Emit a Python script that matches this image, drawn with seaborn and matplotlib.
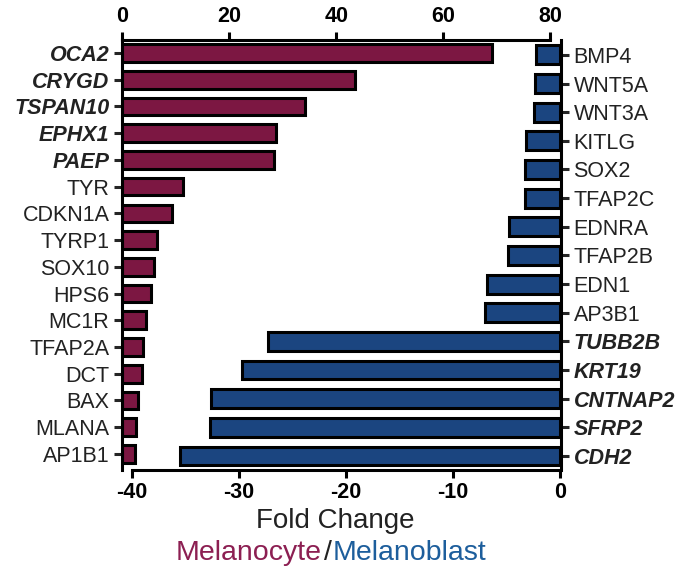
import matplotlib
matplotlib.use('Agg')
import matplotlib.pyplot as plt
import seaborn as sns
import pandas as pd

# Melanocyte genes (top axis, 0..80)
cyte_genes = ['OCA2', 'CRYGD', 'TSPAN10', 'EPHX1', 'PAEP', 'TYR', 'CDKN1A', 'TYRP1',
              'SOX10', 'HPS6', 'MC1R', 'TFAP2A', 'DCT', 'BAX', 'MLANA', 'AP1B1']
cyte_vals = [69.2, 43.5, 34.2, 28.8, 28.4, 11.3, 9.3, 6.5,
             5.9, 5.4, 4.4, 3.9, 3.7, 3.0, 2.5, 2.4]

# Melanoblast genes (bottom axis, -40..0)
blast_genes = ['BMP4', 'WNT5A', 'WNT3A', 'KITLG', 'SOX2', 'TFAP2C', 'EDNRA', 'TFAP2B',
               'EDN1', 'AP3B1', 'TUBB2B', 'KRT19', 'CNTNAP2', 'SFRP2', 'CDH2']
blast_vals = [-2.3, -2.4, -2.45, -3.2, -3.25, -3.3, -4.75, -4.9,
              -6.8, -7.0, -27.3, -29.7, -32.6, -32.7, -35.5]

cyte_bold = ['OCA2', 'CRYGD', 'TSPAN10', 'EPHX1', 'PAEP']
blast_bold = ['TUBB2B', 'KRT19', 'CNTNAP2', 'SFRP2', 'CDH2']

cyte_color = '#7c1742'
blast_color = '#1b4580'

sns.set_style('white')
plt.rcParams['font.family'] = ['Liberation Sans', 'DejaVu Sans']
plt.rcParams['axes.unicode_minus'] = False

cyte_df = pd.DataFrame({'gene': cyte_genes, 'fc': cyte_vals})
blast_df = pd.DataFrame({'gene': blast_genes, 'fc': blast_vals})

W, H = 681, 573
fig = plt.figure(figsize=(W / 100, H / 100), dpi=100)
rect = [122 / W, (H - 470) / H, (561 - 122) / W, (470 - 40) / H]
ax = fig.add_axes(rect)
ax2 = fig.add_axes(rect)
ax2.patch.set_alpha(0)

lw = 2.2

# melanoblast bars, bottom axis
sns.barplot(data=blast_df, x='fc', y='gene', orient='h', color=blast_color,
            saturation=1, edgecolor='black', linewidth=lw, width=0.66, ax=ax)
ax.set_xlim(-40.9, 0.07)
ax.set_ylim(14.49, -0.52)
ax.set_yticks(range(len(blast_genes)))
ax.set_yticklabels(blast_genes)
ax.yaxis.tick_right()
ax.set_xticks([-40, -30, -20, -10, 0])
ax.set_xlabel('')
ax.set_ylabel('')
for s in ['top', 'left']:
    ax.spines[s].set_visible(False)
ax.spines['bottom'].set_bounds(-40, 0)
for s in ['bottom', 'right']:
    ax.spines[s].set_linewidth(lw)
    ax.spines[s].set_color('black')
ax.tick_params(axis='x', direction='out', length=6, width=lw, pad=3,
               labelsize=15.5, bottom=True, colors='black')
ax.tick_params(axis='y', direction='out', length=6, width=lw, pad=3,
               labelsize=15.5, right=True, left=False, labelcolor='#222222')
for t in ax.get_xticklabels():
    t.set_fontweight('bold')
for t in ax.get_yticklabels():
    if t.get_text() in blast_bold:
        t.set_fontweight('bold')
        t.set_fontstyle('italic')

# melanocyte bars, top axis
sns.barplot(data=cyte_df, x='fc', y='gene', orient='h', color=cyte_color,
            saturation=1, edgecolor='black', linewidth=lw, width=0.66, ax=ax2)
ax2.set_xlim(-0.05, 82.05)
ax2.set_ylim(15.6, -0.486)
ax2.set_yticks(range(len(cyte_genes)))
ax2.set_yticklabels(cyte_genes)
ax2.xaxis.tick_top()
ax2.set_xticks([0, 20, 40, 60, 80])
ax2.set_xlabel('')
ax2.set_ylabel('')
for s in ['bottom', 'right']:
    ax2.spines[s].set_visible(False)
ax2.spines['top'].set_bounds(0, 80)
for s in ['top', 'left']:
    ax2.spines[s].set_linewidth(lw)
    ax2.spines[s].set_color('black')
ax2.tick_params(axis='x', direction='out', length=6, width=lw, pad=3,
                labelsize=15.5, top=True, bottom=False, colors='black')
ax2.tick_params(axis='y', direction='out', length=6, width=lw, pad=3,
                labelsize=15.5, left=True, labelcolor='#222222')
for t in ax2.get_xticklabels():
    t.set_fontweight('bold')
for t in ax2.get_yticklabels():
    if t.get_text() in cyte_bold:
        t.set_fontweight('bold')
        t.set_fontstyle('italic')

# axis titles
fig.text(335.5 / W, 1 - 521 / H, 'Fold Change', fontsize=20, color='#222222',
         ha='center', va='center')
ty = 1 - 553 / H
fig.text(322 / W, ty, 'Melanocyte', fontsize=20.5, color='#8c1f52', ha='right', va='center')
fig.text(327.5 / W, ty, '/', fontsize=20.5, color='#222222', ha='center', va='center')
fig.text(333 / W, ty, 'Melanoblast', fontsize=20.5, color='#1d5e9c', ha='left', va='center')

fig.savefig('out.png', dpi=100)
